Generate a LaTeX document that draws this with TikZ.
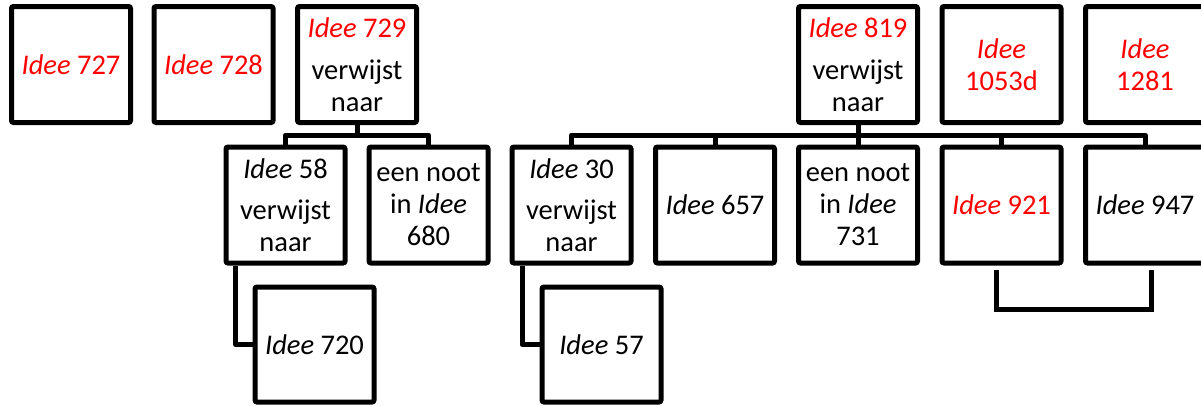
\documentclass[tikz,border=0pt]{standalone}
\usepackage{fontspec}
\setmainfont{Carlito}
\begin{document}
\begin{tikzpicture}[x=1pt,y=-1pt,
  box/.style={draw=black, line width=5pt, rounded corners=2pt,
    minimum width=119pt, minimum height=116pt, inner sep=0pt,
    align=center, font=\fontsize{28.5}{32}\selectfont},
  hot/.style={text=red},
  link/.style={line width=5pt, line join=round}]
\useasboundingbox (0,0) rectangle (1201,405);
\clip (0,0) rectangle (1201,405);

% top row
\node[box,hot] (b727) at (71,64.5) {\textit{Idee} 727};
\node[box,hot] (b728) at (213.5,64.5) {\textit{Idee} 728};
\node[box] (b729) at (357,64.5) {\textcolor{red}{\textit{Idee} 729}\\[10pt]verwijst\\naar};
\node[box] (b819) at (858,64.5) {\textcolor{red}{\textit{Idee} 819}\\[10pt]verwijst\\naar};
\node[box,hot] (b1053) at (1001.5,64.5) {\textit{Idee}\\1053d};
\node[box,hot] (b1281) at (1145,64.5) {\textit{Idee}\\1281};

% second row
\node[box] (b58) at (285.5,205) {\textit{Idee} 58\\[9pt]verwijst\\naar};
\node[box] (b680) at (428.5,205) {een noot\\in \textit{Idee}\\680};
\node[box] (b30) at (571.5,205) {\textit{Idee} 30\\[9pt]verwijst\\naar};
\node[box] (b657) at (715,205) {\textit{Idee} 657};
\node[box] (b731) at (858,205) {een noot\\in \textit{Idee}\\731};
\node[box,hot] (b921) at (1001.5,205) {\textit{Idee} 921};
\node[box] (b947) at (1145,205) {\textit{Idee} 947};

% third row
\node[box,minimum height=115pt] (b720) at (314.5,344.5) {\textit{Idee} 720};
\node[box,minimum height=115pt] (b57) at (601.5,344.5) {\textit{Idee} 57};

% tree connectors
\coordinate (bar) at (0,135);
\coordinate (brk) at (0,309.5);
\draw[link] (b729.south) -- (b729.south |- bar);
\draw[link] (b58.north) -- (b58.north |- bar) -- (b680.north |- bar) -- (b680.north);
\draw[link] (b819.south) -- (b819.south |- bar);
\draw[link] (b30.north) -- (b30.north |- bar) -- (b947.north |- bar) -- (b947.north);
\foreach \n in {657,731,921} \draw[link] (b\n.north) -- (b\n.north |- bar);

% references to the lower row
\draw[link] ([xshift=12pt]b58.south west) |- (b720.west);
\draw[link] ([xshift=12.5pt]b30.south west) |- (b57.west);

% bracket joining 921 and 947
\draw[link,line join=miter] ([xshift=-5.5pt,yshift=-4pt]b921.south) -- ([xshift=-5.5pt]b921.south |- brk)
  -- ([xshift=6pt]b947.south |- brk) -- ([xshift=6pt,yshift=-4pt]b947.south);
\end{tikzpicture}
\end{document}
